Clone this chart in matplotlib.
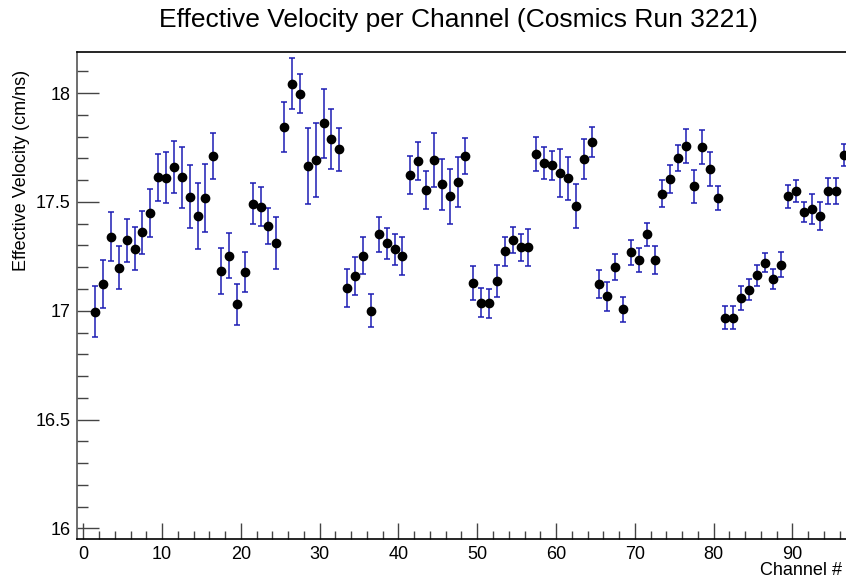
import numpy as np
import matplotlib
matplotlib.use("Agg")
import matplotlib.pyplot as plt
from matplotlib.ticker import MultipleLocator

# effective velocity per channel, cosmics run 3221
channel = np.arange(1, 97) + 0.5
velocity = [
    16.995, 17.121, 17.340, 17.198, 17.323, 17.285, 17.360, 17.449, 17.613, 17.610,
    17.659, 17.613, 17.524, 17.436, 17.519, 17.711, 17.184, 17.253, 17.029, 17.179,
    17.492, 17.478, 17.388, 17.311, 17.845, 18.043, 17.997, 17.665, 17.692, 17.861,
    17.787, 17.741, 17.104, 17.159, 17.253, 17.000, 17.351, 17.310, 17.282, 17.253,
    17.623, 17.688, 17.556, 17.692, 17.581, 17.525, 17.590, 17.711, 17.127, 17.037,
    17.034, 17.138, 17.273, 17.323, 17.291, 17.291, 17.721, 17.678, 17.668, 17.631,
    17.608, 17.482, 17.697, 17.776, 17.123, 17.066, 17.202, 17.006, 17.268, 17.232,
    17.351, 17.234, 17.537, 17.604, 17.701, 17.757, 17.571, 17.753, 17.651, 17.519,
    16.968, 16.968, 17.058, 17.097, 17.163, 17.221, 17.146, 17.211, 17.525, 17.550,
    17.453, 17.467, 17.435, 17.550, 17.550, 17.717,
]
velocity_err = [
    0.117, 0.110, 0.112, 0.100, 0.097, 0.100, 0.100, 0.112, 0.107, 0.117,
    0.120, 0.140, 0.146, 0.153, 0.156, 0.107, 0.105, 0.103, 0.095, 0.093,
    0.095, 0.089, 0.082, 0.119, 0.116, 0.117, 0.090, 0.175, 0.170, 0.158,
    0.138, 0.097, 0.088, 0.087, 0.084, 0.077, 0.080, 0.071, 0.070, 0.088,
    0.089, 0.089, 0.088, 0.123, 0.117, 0.126, 0.114, 0.084, 0.077, 0.067,
    0.067, 0.073, 0.066, 0.060, 0.061, 0.084, 0.079, 0.073, 0.068, 0.110,
    0.100, 0.100, 0.092, 0.070, 0.064, 0.065, 0.060, 0.057, 0.056, 0.055,
    0.054, 0.063, 0.062, 0.064, 0.061, 0.080, 0.077, 0.078, 0.077, 0.055,
    0.054, 0.054, 0.054, 0.049, 0.049, 0.044, 0.047, 0.057, 0.053, 0.051,
    0.047, 0.068, 0.066, 0.061, 0.061, 0.050,
]

plt.rcParams["font.family"] = ["Liberation Sans", "DejaVu Sans"]

fig = plt.figure(figsize=(8.46, 5.87), dpi=100)
ax = fig.add_axes([77.3 / 846, 1 - 539.3 / 587, 1 - 77.3 / 846, (539.3 - 51.7) / 587])

ax.errorbar(channel, velocity, yerr=velocity_err, fmt="o", color="black",
            markersize=6, ecolor="#1c1cb4", elinewidth=1.1, capsize=2.5,
            capthick=1.1, zorder=3)

ax.set_xlim(-0.76, 96.8)
ax.set_ylim(15.95, 18.19)

ax.xaxis.set_major_locator(MultipleLocator(10))
ax.xaxis.set_minor_locator(MultipleLocator(2))
ax.yaxis.set_major_locator(MultipleLocator(0.5))
ax.yaxis.set_minor_locator(MultipleLocator(0.1))
ax.yaxis.set_major_formatter(matplotlib.ticker.FuncFormatter(lambda v, p: f"{v:g}"))

ax.tick_params(axis="both", which="both", direction="in", labelsize=13,
               top=False, right=False, color="#444444")
ax.tick_params(axis="x", which="major", length=11.3, width=1, pad=5)
ax.tick_params(axis="x", which="minor", length=6, width=1)
ax.tick_params(axis="y", which="major", length=15.8, width=1, pad=5)
ax.tick_params(axis="y", which="minor", length=7.9, width=1)

for side in ["top", "bottom"]:
    ax.spines[side].set_linewidth(1.2)
ax.spines["left"].set_color("#555555")
ax.spines["left"].set_linewidth(1.2)
ax.spines["right"].set_visible(False)

fig.text(22 / 846, 1 - 170 / 587, "Effective Velocity (cm/ns)", rotation=90,
         ha="center", va="center", fontsize=13)
fig.text(842 / 846, 1 - 575 / 587, "Channel #", ha="right", va="baseline",
         fontsize=13)
fig.text(458 / 846, 1 - 27 / 587, "Effective Velocity per Channel (Cosmics Run 3221)",
         ha="center", va="baseline", fontsize=19)

fig.savefig("out.png", dpi=100)
